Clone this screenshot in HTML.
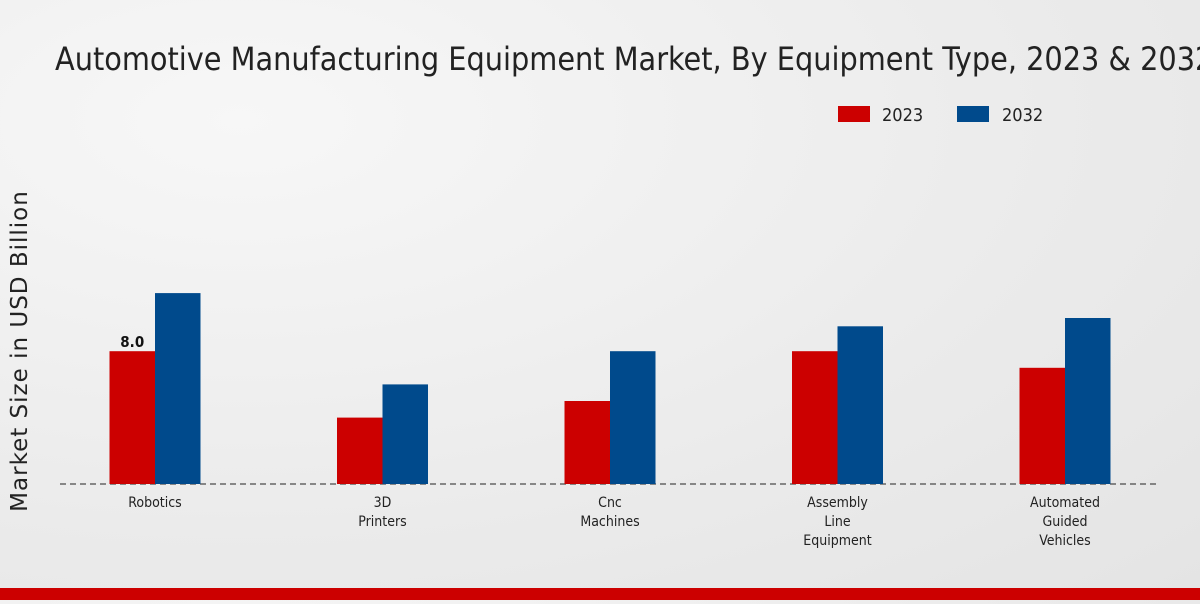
<!DOCTYPE html>
<html><head><meta charset="utf-8"><style>
body{margin:0;width:1200px;height:600px;overflow:hidden;background:radial-gradient(ellipse at 20% 20%,#f7f7f7 0%,#ebebeb 60%,#e4e4e4 100%);font-family:"DejaVu Sans Condensed","DejaVu Sans","Liberation Sans",sans-serif;}
</style></head><body>
<svg width="1200" height="600">
<text x="55" y="70" font-size="32" fill="#222" style="font-family:'DejaVu Sans Condensed','DejaVu Sans',sans-serif">Automotive Manufacturing Equipment Market, By Equipment Type, 2023 &amp; 2032</text>
<g>
<rect x="838" y="106" width="32" height="16" fill="#cc0000"/>
<text x="882" y="121" font-size="18" fill="#222">2023</text>
<rect x="957" y="106" width="32" height="16" fill="#004a8c"/>
<text x="1002" y="121" font-size="18" fill="#222">2032</text>
</g>
<text transform="translate(27,351) rotate(-90)" text-anchor="middle" font-size="23" fill="#222" style="font-family:'DejaVu Sans',sans-serif;letter-spacing:1px">Market Size in USD Billion</text>
<line x1="60" y1="484" x2="1160" y2="484" stroke="#222" stroke-dasharray="6,4"/>
<g id="bars"></g>
<rect x="0" y="588" width="1200" height="12" fill="#cc0000"/>
</svg>
<script>
const categories=[["Robotics"],["3D","Printers"],["Cnc","Machines"],["Assembly","Line","Equipment"],["Automated","Guided","Vehicles"]];
const values2023=[8.0,4.0,5.0,8.0,7.0];
const values2032=[11.5,6.0,8.0,9.5,10.0];
const ns="http://www.w3.org/2000/svg";
const g=document.getElementById('bars');
const base=484,scale=16.6,x0=155,step=227.5,bw=45.5;
function y(v){return base-v*scale;}
function x(i){return x0+i*step;}
categories.forEach((c,i)=>{
  [[values2023,'#cc0000',-bw,'2023'],[values2032,'#004a8c',0,'2032']].forEach(([arr,col,off,yr])=>{
    const r=document.createElementNS(ns,'rect');
    r.setAttribute('x',x(i)+off);r.setAttribute('y',y(arr[i]));
    r.setAttribute('width',bw);r.setAttribute('height',base-y(arr[i]));r.setAttribute('fill',col);
    
    
    g.appendChild(r);
  });
  c.forEach((w,j)=>{
    const t=document.createElementNS(ns,'text');
    t.setAttribute('x',x(i));t.setAttribute('y',507+j*19);t.setAttribute('text-anchor','middle');
    t.setAttribute('font-size','14');t.setAttribute('fill','#222');t.textContent=w;
    
    
    g.appendChild(t);
  });
});
const lb=document.createElementNS(ns,'text');
lb.setAttribute('x',x(0)-bw/2);lb.setAttribute('y',y(values2023[0])-4);lb.setAttribute('text-anchor','middle');
lb.setAttribute('font-size','15');lb.setAttribute('font-weight','bold');lb.setAttribute('fill','#111');
lb.textContent=values2023[0].toFixed(1);


g.appendChild(lb);
</script>
</body></html>
